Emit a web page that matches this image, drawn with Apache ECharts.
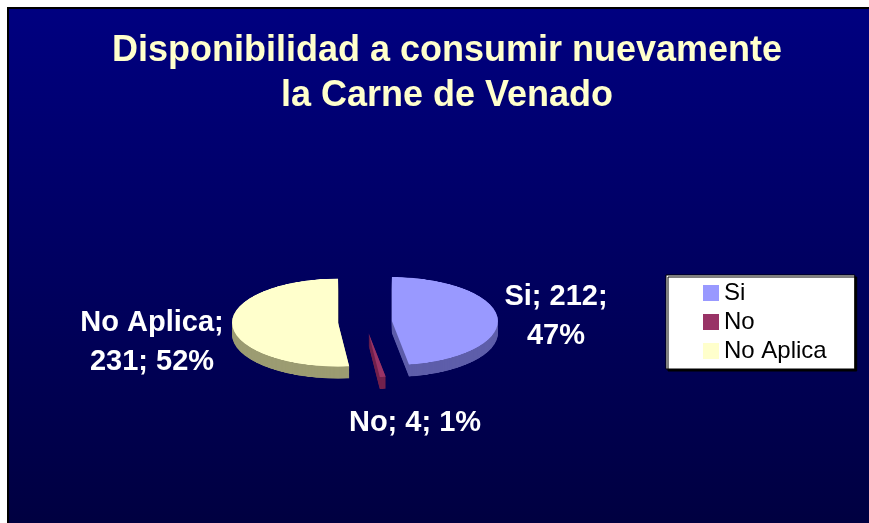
<!DOCTYPE html>
<html>
<head>
<meta charset="utf-8">
<script src="https://cdn.jsdelivr.net/npm/echarts@6/dist/echarts.min.js"></script>
<style>
  body { margin: 0; background: #fff; }
  #wrap { position: relative; width: 869px; height: 523px; }
  #main, #pie { position: absolute; left: 0; top: 0; width: 869px; height: 523px; }
  /* squash the pie vertically to fake the 3D tilt */
  #pie { transform-origin: 0 322px; transform: scaleY(0.415); }
</style>
</head>
<body>
<div id="wrap">
  <div id="main"></div>
  <div id="pie"></div>
</div>
<script>
var categories = ['Si', 'No', 'No Aplica'];
var counts = [212, 4, 231];
var percents = [47, 1, 52];
var topColors = ['#9999ff', '#993366', '#ffffcc'];
var sideColors = ['#5e5eaa', '#73214d', '#9c9c72'];
// after which part of "name; count; pct" the label wraps (0 = no wrap)
var labelBreaks = [2, 0, 1];

var font = '"Liberation Sans", Arial, sans-serif';

function labelText(i) {
    var parts = [categories[i] + ';', counts[i] + ';', percents[i] + '%'];
    var s = '';
    for (var k = 0; k < parts.length; k++) {
        s += parts[k];
        if (k < parts.length - 1) s += (labelBreaks[i] === k + 1 ? '\n' : ' ');
    }
    return s;
}

var labelPos = [[556, 316], [415, 423], [152, 342]];

var mainChart = echarts.init(document.getElementById('main'));
var graphics = [{
    type: 'rect',
    z: -10,
    shape: { x: 8, y: 8, width: 870, height: 520 },
    style: {
        fill: new echarts.graphic.LinearGradient(0, 0, 0, 1, [
            { offset: 0, color: '#000080' },
            { offset: 1, color: '#000040' }
        ]),
        stroke: '#000',
        lineWidth: 2
    }
}, {
    type: 'text',
    x: 447,
    y: 74,
    style: {
        text: 'Disponibilidad a consumir nuevamente\nla Carne de Venado',
        fill: '#ffffcc',
        fontFamily: font,
        fontWeight: 'bold',
        fontSize: 36,
        lineHeight: 45,
        align: 'center',
        verticalAlign: 'middle'
    }
}];
categories.forEach(function (c, i) {
    graphics.push({
        type: 'text',
        x: labelPos[i][0],
        y: labelPos[i][1],
        style: {
            text: labelText(i),
            fill: '#fff',
            fontFamily: font,
            fontWeight: 'bold',
            fontSize: 29,
            lineHeight: 39,
            align: 'center',
            verticalAlign: 'middle'
        }
    });
});

mainChart.setOption({
    animation: false,
    graphic: graphics,
    legend: {
        orient: 'vertical',
        left: 666,
        top: 275,
        padding: [6, 28, 6, 37],
        itemWidth: 16,
        itemHeight: 16,
        itemGap: 5,
        icon: 'rect',
        backgroundColor: '#fff',
        borderColor: '#000',
        borderWidth: 1,
        shadowColor: '#000',
        shadowOffsetX: 2,
        shadowOffsetY: 2,
        textStyle: { fontFamily: font, fontSize: 24, color: '#000' },
        data: categories
    },
    series: [{
        type: 'pie',
        radius: [0, 0],
        silent: true,
        label: { show: false },
        data: categories.map(function (c, i) {
            return { name: c, value: counts[i], itemStyle: { color: topColors[i] } };
        })
    }]
});

// pie drawn in its own (vertically squashed) layer
var pieChart = echarts.init(document.getElementById('pie'));
function pieLayer(colors, dy) {
    return {
        type: 'pie',
        center: [365, 322 + dy],
        radius: [0, 106],
        startAngle: 90,
        clockwise: true,
        selectedMode: 'multiple',
        selectedOffset: 27,
        silent: true,
        label: { show: false },
        labelLine: { show: false },
        itemStyle: { borderWidth: 0 },
        data: categories.map(function (c, i) {
            return { name: c, value: counts[i], selected: true, itemStyle: { color: colors[i] } };
        })
    };
}
var layers = [];
for (var d = 29; d > 0; d -= 2) layers.push(pieLayer(sideColors, d));
layers.push(pieLayer(topColors, 0));

pieChart.setOption({
    animation: false,
    series: layers
});
</script>
</body>
</html>
